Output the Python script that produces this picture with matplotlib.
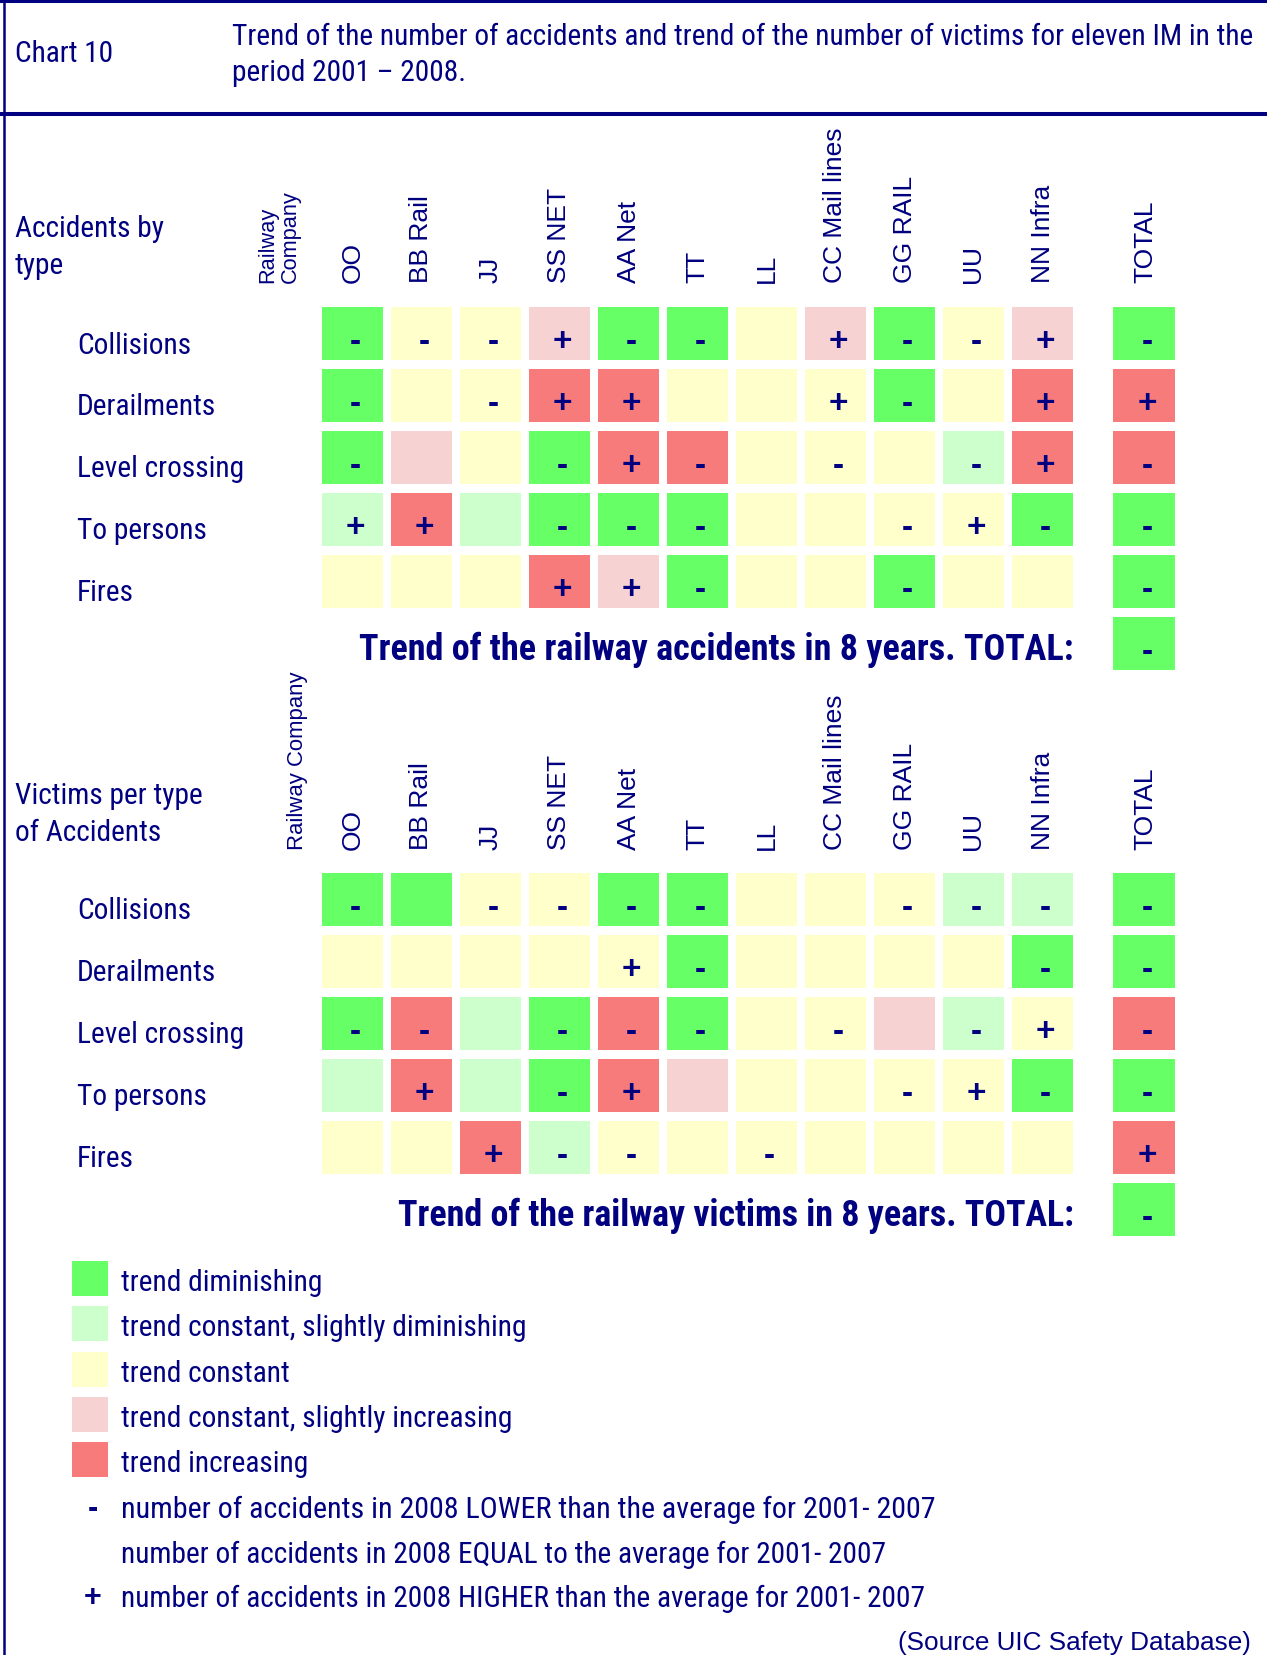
import matplotlib
matplotlib.use('Agg')
import matplotlib.pyplot as plt
from matplotlib.patches import Rectangle
from matplotlib import font_manager

# companies (columns) and accident types (rows)
companies = ['OO', 'BB Rail', 'JJ', 'SS NET', 'AA Net', 'TT', 'LL',
             'CC Mail lines', 'GG RAIL', 'UU', 'NN Infra']
acc_types = ['Collisions', 'Derailments', 'Level crossing', 'To persons', 'Fires']

# trend codes: -2 diminishing, -1 slightly diminishing, 0 constant,
#               1 slightly increasing, 2 increasing
# sign codes: -1 lower than average, 0 equal, 1 higher
acc_trend = [
    [-2, 0, 0, 1, -2, -2, 0, 1, -2, 0, 1],
    [-2, 0, 0, 2, 2, 0, 0, 0, -2, 0, 2],
    [-2, 1, 0, -2, 2, 2, 0, 0, 0, -1, 2],
    [-1, 2, -1, -2, -2, -2, 0, 0, 0, 0, -2],
    [0, 0, 0, 2, 1, -2, 0, 0, -2, 0, 0],
]
acc_sign = [
    [-1, -1, -1, 1, -1, -1, 0, 1, -1, -1, 1],
    [-1, 0, -1, 1, 1, 0, 0, 1, -1, 0, 1],
    [-1, 0, 0, -1, 1, -1, 0, -1, 0, -1, 1],
    [1, 1, 0, -1, -1, -1, 0, 0, -1, 1, -1],
    [0, 0, 0, 1, 1, -1, 0, 0, -1, 0, 0],
]
acc_total_trend = [-2, 2, 2, -2, -2]
acc_total_sign = [-1, 1, -1, -1, -1]
acc_overall = (-2, -1)

vic_trend = [
    [-2, -2, 0, 0, -2, -2, 0, 0, 0, -1, -1],
    [0, 0, 0, 0, 0, -2, 0, 0, 0, 0, -2],
    [-2, 2, -1, -2, 2, -2, 0, 0, 1, -1, 0],
    [-1, 2, -1, -2, 2, 1, 0, 0, 0, 0, -2],
    [0, 0, 2, -1, 0, 0, 0, 0, 0, 0, 0],
]
vic_sign = [
    [-1, 0, -1, -1, -1, -1, 0, 0, -1, -1, -1],
    [0, 0, 0, 0, 1, -1, 0, 0, 0, 0, -1],
    [-1, -1, 0, -1, -1, -1, 0, -1, 0, -1, 1],
    [0, 1, 0, -1, 1, 0, 0, 0, -1, 1, -1],
    [0, 0, 1, -1, -1, 0, -1, 0, 0, 0, 0],
]
vic_total_trend = [-2, -2, 2, -2, 2]
vic_total_sign = [-1, -1, -1, -1, 1]
vic_overall = (-2, -1)

trend_labels = ['trend diminishing', 'trend constant, slightly diminishing',
                'trend constant', 'trend constant, slightly increasing',
                'trend increasing']
sign_labels = ['number of accidents in 2008 LOWER than the average for 2001- 2007',
               'number of accidents in 2008 EQUAL to the average for 2001- 2007',
               'number of accidents in 2008 HIGHER than the average for 2001- 2007']

colors = {-2: '#66FF66', -1: '#CCFFCC', 0: '#FFFFCC', 1: '#F7D2D2', 2: '#F77B7B'}
signs = {-1: '-', 0: '', 1: '+'}
navy = '#000080'

# the original uses a narrow face; take the closest one that is installed
names = {f.name for f in font_manager.fontManager.ttflist}
NARROW = dict(family='DejaVu Sans', stretch='condensed')
for cand in ['Liberation Sans Narrow', 'Arial Narrow', 'Roboto Condensed',
             'Open Sans Condensed', 'Noto Sans Condensed']:
    if cand in names:
        NARROW = dict(family=cand)
        break
WIDE = dict(family='Liberation Sans')

fig = plt.figure(figsize=(12.67, 16.56), dpi=100)
ax = fig.add_axes([0, 0, 1, 1])
ax.set_xlim(0, 1267)
ax.set_ylim(1656, 0)
ax.axis('off')
r = fig.canvas.get_renderer()


def fit(t, width):
    w = t.get_window_extent(r).width
    t.set_fontsize(t.get_fontsize() * width / w)
    return t.get_fontsize()


# frame lines
ax.plot([3.5, 3.5], [0, 1656], color=navy, lw=1.8)
ax.plot([0, 1267], [1.5, 1.5], color=navy, lw=2.2)
ax.plot([0, 1267], [115, 115], color=navy, lw=2.9)

# header
t1 = ax.text(232, 37, 'Trend of the number of accidents and trend of the number of victims for eleven IM in the',
             va='center', color=navy, fontsize=20, **NARROW)
fs = fit(t1, 1019)
ax.text(232, 73, 'period 2001 \u2013 2008.', va='center', color=navy, fontsize=fs, **NARROW)
ax.text(15, 54, 'Chart 10', va='center', color=navy, fontsize=fs, **NARROW)

COL0, COLW, CW = 322, 69, 61
TOTX, TOTW = 1113, 62
ROWH, RH = 62, 53


def mark(cx, cy, s):
    if s:
        ax.text(cx + 3, cy + 8, signs[s], ha='center', va='center', color=navy,
                fontsize=24, weight='bold', **WIDE)


def grid(top, label_top, title, trend, sign, ttrend, tsign, overall, summary, sw):
    # column headers
    for i, c in enumerate(companies):
        ax.text(COL0 + COLW * i + CW / 2, label_top, c, rotation=90, ha='center',
                va='bottom', color=navy, fontsize=19, **WIDE)
    ax.text(TOTX + TOTW / 2 + 1, label_top, 'TOTAL', rotation=90, ha='center',
            va='bottom', color=navy, fontsize=19, **WIDE)
    # row labels and cells
    for j, a in enumerate(acc_types):
        y = top + ROWH * j
        ax.text(77, y + RH / 2 + 11, a, va='center', color=navy, fontsize=fs, **NARROW)
        for i in range(len(companies)):
            x = COL0 + COLW * i
            ax.add_patch(Rectangle((x, y), CW, RH, facecolor=colors[trend[j][i]], edgecolor='none'))
            mark(x + CW / 2, y + RH / 2, sign[j][i])
        ax.add_patch(Rectangle((TOTX, y), TOTW, RH, facecolor=colors[ttrend[j]], edgecolor='none'))
        mark(TOTX + TOTW / 2, y + RH / 2, tsign[j])
    y = top + ROWH * len(acc_types)
    ax.add_patch(Rectangle((TOTX, y), TOTW, RH, facecolor=colors[overall[0]], edgecolor='none'))
    mark(TOTX + TOTW / 2, y + RH / 2, overall[1])
    st = ax.text(1074, y + RH / 2 + 5, summary, ha='right', va='center', color=navy,
                 fontsize=24, weight='bold', **NARROW)
    fit(st, sw)
    for k, line in enumerate(title):
        ax.text(15, label_top - 54 + 37 * k, line, va='center', color=navy, fontsize=fs, **NARROW)


grid(308, 283, ['Accidents by', 'type'], acc_trend, acc_sign, acc_total_trend,
     acc_total_sign, acc_overall, 'Trend of the railway accidents in 8 years. TOTAL:', 716)
ax.text(279, 283, 'Railway\nCompany', rotation=90, ha='center', va='bottom',
        multialignment='left', color=navy, fontsize=15.7, linespacing=1.05, **WIDE)

grid(874, 850, ['Victims per type', 'of Accidents'], vic_trend, vic_sign, vic_total_trend,
     vic_total_sign, vic_overall, 'Trend of the railway victims in 8 years. TOTAL:', 680)
ax.text(297, 850, 'Railway Company', rotation=90, ha='center', va='bottom',
        color=navy, fontsize=15.9, **WIDE)

# legend
for k, (code, lab) in enumerate(zip([-2, -1, 0, 1, 2], trend_labels)):
    y = 1262 + 45.3 * k
    ax.add_patch(Rectangle((72, y), 36, 35, facecolor=colors[code], edgecolor='none'))
    ax.text(121, y + 21, lab, va='center', color=navy, fontsize=fs, **NARROW)
for k, (s, lab) in enumerate(zip([-1, 0, 1], sign_labels)):
    y = 1507 + 44.5 * k
    if s:
        ax.text(93, y + 2, signs[s], ha='center', va='center', color=navy,
                fontsize=22, weight='bold', **WIDE)
    lt = ax.text(121, y + 3, lab, va='center', color=navy, fontsize=fs, **NARROW)
    if k == 0:
        fit(lt, 816)

src = ax.text(1251, 1643, '(Source UIC Safety Database)', ha='right', va='center',
              color=navy, fontsize=19, **WIDE)
fit(src, 353)

fig.savefig('out.png', dpi=100)
